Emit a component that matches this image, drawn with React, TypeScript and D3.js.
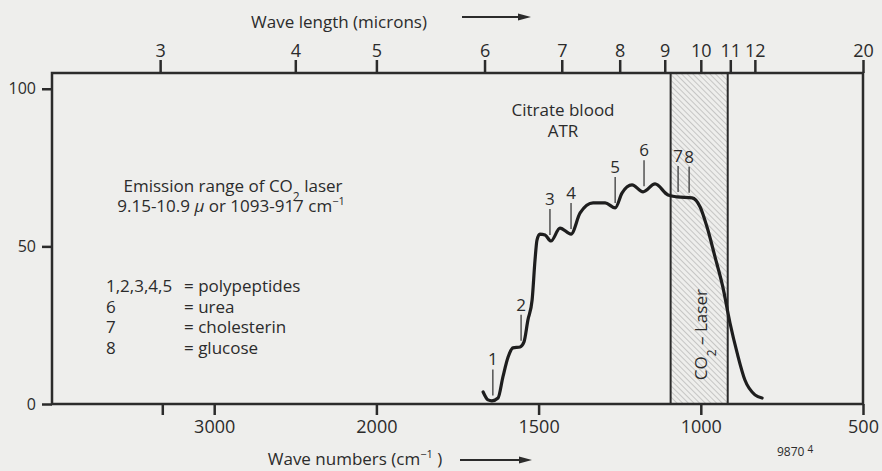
import React, { useRef, useEffect } from "react";
import * as d3 from "d3";

// spectrum of citrate blood (ATR)
const waveNumbers = [
  1671, 1656, 1644, 1625, 1610, 1594, 1579, 1557, 1545, 1533, 1520, 1511, 1505,
  1496, 1480, 1462, 1434, 1400, 1372, 1332, 1295, 1264, 1243, 1212, 1178, 1141,
  1101, 1073, 1027, 1002, 981, 956, 932, 910, 888, 864, 833, 811,
];
const intensity = [
  3.8, 1.3, 1.0, 1.9, 8.6, 14.9, 17.8, 18.1, 19.7, 26.6, 33, 45.7, 52, 53.9,
  53.6, 51.7, 55.8, 53.9, 60.6, 63.8, 63.8, 62.2, 66.9, 69.5, 67.3, 69.8, 66.3,
  65.7, 65.4, 62.5, 56.2, 46.6, 37.1, 25.7, 16.2, 7.6, 2.9, 1.9,
];

// numbered bands
const peakLabels = ["1", "2", "3", "4", "5", "6", "7", "8"];
const peakWaveNumbers = [1641, 1554, 1465, 1400, 1264, 1175, 1070, 1036];

// axes
const bottomTicks = [3320, 3000, 2000, 1500, 1000, 500];
const bottomTickLabels = ["", "3000", "2000", "1500", "1000", "500"];
const wavelengthTicks = [3, 4, 5, 6, 7, 8, 9, 10, 11, 12, 20];
const yTicks = [0, 50, 100];

// CO2 laser emission range (cm-1)
const laserBand = [1093, 917];

const legendKeys = ["1,2,3,4,5", "6", "7", "8"];
const legendNames = ["= polypeptides", "= urea", "= cholesterin", "= glucose"];

const W = 882;
const H = 471;
const margin = { top: 73, right: 19, bottom: 67, left: 52 };
const ink = "#2b2b2b";

const valueAt = (wn: number) => {
  for (let i = 1; i < waveNumbers.length; i++) {
    if (wn >= waveNumbers[i]) {
      const t = (waveNumbers[i - 1] - wn) / (waveNumbers[i - 1] - waveNumbers[i]);
      return intensity[i - 1] + t * (intensity[i] - intensity[i - 1]);
    }
  }
  return intensity[intensity.length - 1];
};

const Spectrum: React.FC = () => {
  const ref = useRef<SVGSVGElement | null>(null);

  useEffect(() => {
    if (!ref.current) return;
    const svg = d3.select(ref.current);
    svg.selectAll("*").remove();

    const w = W - margin.left - margin.right;
    const h = H - margin.top - margin.bottom;

    // grating change at 2000 cm-1: 4000-2000 drawn at half scale
    const breakFrac = 1000 / 2500;
    const x = d3.scaleLinear().domain([4000, 2000, 500]).range([0, w * breakFrac, w]);
    const y = d3.scaleLinear().domain([0, 105]).range([h, 0]);
    const xTop = d3
      .scaleLinear()
      .domain(wavelengthTicks)
      .range(wavelengthTicks.map((l) => x(10000 / l)));

    svg.append("rect").attr("width", W).attr("height", H).attr("fill", "#eeeeec");

    const defs = svg.append("defs");
    const pat = defs
      .append("pattern")
      .attr("id", "hatch")
      .attr("patternUnits", "userSpaceOnUse")
      .attr("width", 4)
      .attr("height", 4)
      .attr("patternTransform", "rotate(-45)");
    pat.append("line").attr("x1", 0).attr("y1", 0).attr("x2", 0).attr("y2", 4)
      .attr("stroke", "#8a8a8a").attr("stroke-width", 0.8);

    const g = svg.append("g").attr("transform", `translate(${margin.left},${margin.top})`);

    // laser band
    const bx0 = x(laserBand[0]);
    const bx1 = x(laserBand[1]);
    g.append("rect").attr("x", bx0).attr("y", 0).attr("width", bx1 - bx0).attr("height", h)
      .attr("fill", "url(#hatch)");
    [bx0, bx1].forEach((bx) =>
      g.append("line").attr("x1", bx).attr("x2", bx).attr("y1", 0).attr("y2", h)
        .attr("stroke", ink).attr("stroke-width", 2)
    );
    g.append("text")
      .attr("transform", `translate(${x(1000) + 6},${y(22)}) rotate(-90)`)
      .attr("text-anchor", "middle")
      .attr("font-size", 17)
      .attr("fill", ink)
      .call((t) => {
        t.append("tspan").text("CO");
        t.append("tspan").attr("baseline-shift", "sub").attr("font-size", 12).text("2");
        t.append("tspan").text(" – Laser");
      });

    // axes
    const styleAxis = (sel: any, size: number) => {
      sel.select(".domain").remove();
      sel.selectAll(".tick line").attr("stroke", ink).attr("stroke-width", 2.5);
      sel.selectAll(".tick text").attr("fill", ink).attr("font-size", size)
        .attr("font-family", "'Open Sans', sans-serif");
    };

    g.append("g")
      .attr("transform", `translate(0,${h})`)
      .call(
        d3.axisBottom(x).tickValues(bottomTicks).tickSize(11).tickPadding(5)
          .tickFormat((d, i) => bottomTickLabels[i])
      )
      .call((s) => styleAxis(s, 18));

    g.append("g")
      .call(d3.axisTop(xTop).tickValues(wavelengthTicks).tickSize(13).tickPadding(3)
        .tickFormat((d) => String(d)))
      .call((s) => styleAxis(s, 18));

    g.append("g")
      .call(d3.axisLeft(y).tickValues(yTicks).tickSize(10).tickPadding(6)
        .tickFormat((d) => String(d)))
      .call((s) => styleAxis(s, 16));

    g.append("rect").attr("width", w).attr("height", h).attr("fill", "none")
      .attr("stroke", ink).attr("stroke-width", 2.5);

    // spectrum
    const pts = waveNumbers.map((wn, i) => [wn, intensity[i]] as [number, number]);
    const line = d3.line<[number, number]>()
      .x((d) => x(d[0]))
      .y((d) => y(d[1]))
      .curve(d3.curveMonotoneX);
    g.append("path").datum(pts).attr("d", line).attr("fill", "none")
      .attr("stroke", "#1e1e1e").attr("stroke-width", 3.2)
      .attr("stroke-linejoin", "round").attr("stroke-linecap", "round");

    // band markers
    peakWaveNumbers.forEach((wn, i) => {
      const px = x(wn);
      const py = y(valueAt(wn)) - 5;
      g.append("line").attr("x1", px).attr("x2", px).attr("y1", py).attr("y2", py - 26)
        .attr("stroke", "#3a3a3a").attr("stroke-width", 1.3);
      g.append("text").attr("x", px).attr("y", py - 30).attr("text-anchor", "middle")
        .attr("font-size", 17).attr("fill", ink).text(peakLabels[i]);
    });

    // annotations
    const ann = svg.append("g").attr("fill", ink).attr("font-size", 17);
    ann.append("text").attr("x", 563).attr("y", 116).attr("text-anchor", "middle").text("Citrate blood");
    ann.append("text").attr("x", 563).attr("y", 137).attr("text-anchor", "middle").text("ATR");

    const e1 = ann.append("text").attr("x", 233).attr("y", 192).attr("text-anchor", "middle");
    e1.append("tspan").text("Emission range of CO");
    e1.append("tspan").attr("baseline-shift", "sub").attr("font-size", 12).text("2");
    e1.append("tspan").text("  laser");
    const e2 = ann.append("text").attr("x", 231).attr("y", 212).attr("text-anchor", "middle");
    e2.append("tspan").text("9.15-10.9 ");
    e2.append("tspan").attr("font-style", "italic").text("μ");
    e2.append("tspan").text(" or 1093-917 cm");
    e2.append("tspan").attr("baseline-shift", "super").attr("font-size", 11).text("−1");

    legendKeys.forEach((k, i) => {
      ann.append("text").attr("x", 106).attr("y", 292 + i * 20.5).text(k);
      ann.append("text").attr("x", 184).attr("y", 292 + i * 20.5).text(legendNames[i]);
    });

    ann.append("text").attr("x", 339).attr("y", 28).attr("text-anchor", "middle")
      .text("Wave length (microns)");
    const bt = ann.append("text").attr("x", 355).attr("y", 465).attr("text-anchor", "middle");
    bt.append("tspan").text("Wave numbers (cm");
    bt.append("tspan").attr("baseline-shift", "super").attr("font-size", 11).text("−1");
    bt.append("tspan").text(" )");

    const arrow = (x0: number, x1: number, yy: number) => {
      ann.append("line").attr("x1", x0).attr("x2", x1 - 10).attr("y1", yy).attr("y2", yy)
        .attr("stroke", ink).attr("stroke-width", 2.2);
      ann.append("path")
        .attr("d", `M${x1 - 13},${yy - 3.5}L${x1},${yy}L${x1 - 13},${yy + 3.5}Z`)
        .attr("fill", ink);
    };
    arrow(462, 531, 17);
    arrow(460, 532, 460);

    const code = ann.append("text").attr("x", 777).attr("y", 456).attr("font-size", 12);
    code.append("tspan").text("9870 ");
    code.append("tspan").attr("dy", -3).attr("font-size", 10).text("4");
  }, []);

  return (
    <svg
      ref={ref}
      width={W}
      height={H}
      style={{ position: "absolute", left: 0, top: 0, fontFamily: "'Open Sans', sans-serif" }}
    />
  );
};

export default function App() {
  return <Spectrum />;
}
